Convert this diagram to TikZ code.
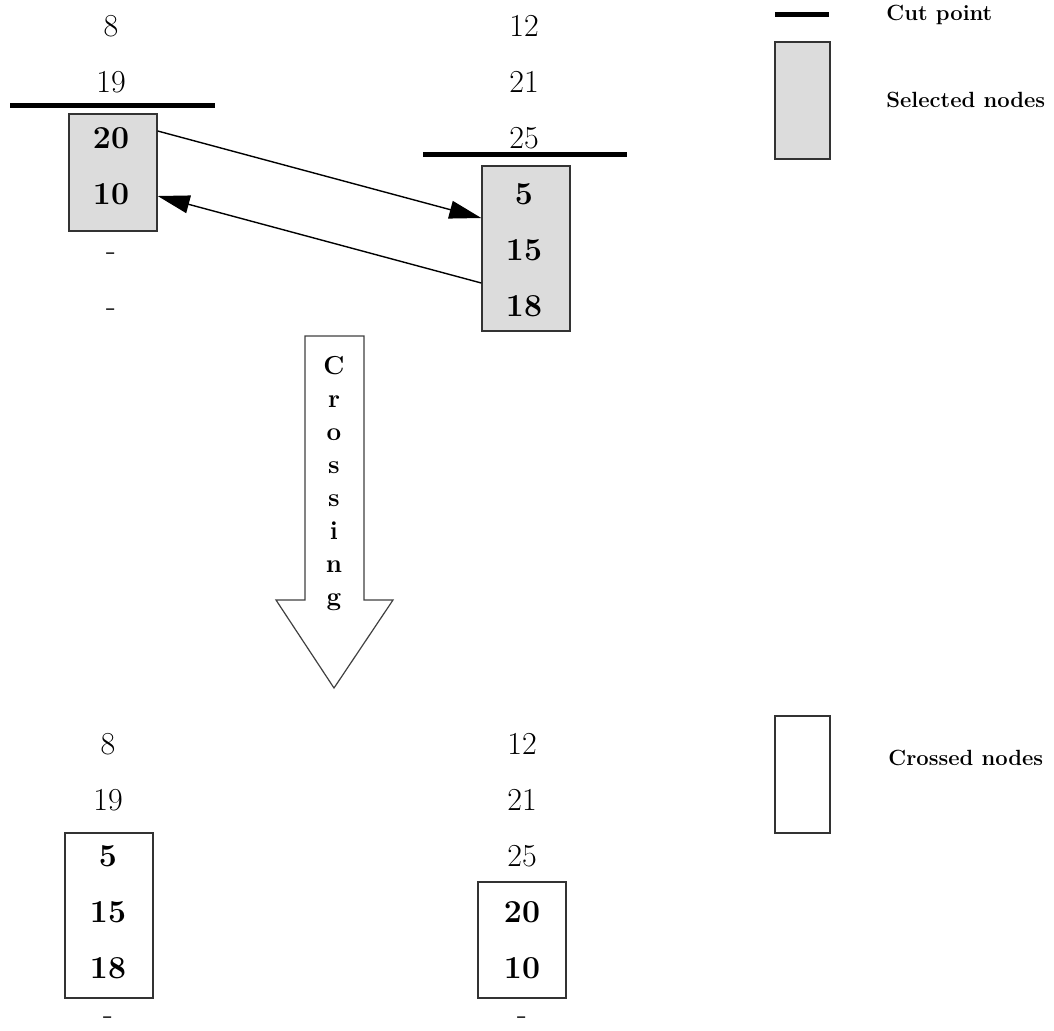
\documentclass[tikz,border=0pt]{standalone}
\usepackage{fontspec}
\usepackage{tikz}
\usetikzlibrary{arrows.meta,positioning}

\definecolor{selgray}{RGB}{220,220,220}
\tikzset{
  num/.style={inner sep=0pt,text height=11pt,text depth=0pt,font=\fontsize{16}{19}\selectfont},
  bnum/.style={num,font=\fontsize{16}{19}\selectfont\bfseries},
  selected/.style={draw=black!80,line width=0.7pt,fill=selgray,minimum width=44pt},
  crossed/.style={draw=black!80,line width=0.7pt,minimum width=44pt},
  cut/.style={line width=2.5pt},
  legend/.style={anchor=west,inner sep=0pt,font=\fontsize{11}{13}\selectfont\bfseries},
  pick/.style={line width=0.7pt,-{Triangle[length=16pt,width=9pt]}}
}

\begin{document}
\begin{tikzpicture}[x=0.5pt,y=-0.5pt,node distance=28pt,on grid]
  \useasboundingbox (0,0) rectangle (1054,1030);

  % boxes first, numbers on top
  \node[selected,minimum height=58.5pt] (sel_a) at (113,172.5) {};
  \node[selected,minimum height=82.5pt] (sel_b) at (526,248.5) {};
  \node[crossed,minimum height=82.5pt] (crs_c) at (109,915.5) {};
  \node[crossed,minimum height=58pt] (crs_d) at (522,940) {};

  % before crossing
  \node[num] (a_1) at (111,25) {8};
  \node[num] (a_2) [below=of a_1] {19};
  \node[bnum] (a_3) [below=of a_2] {20};
  \node[bnum] (a_4) [below=of a_3] {10};
  \node[num] (a_5) [below=of a_4] {-};
  \node[num] (a_6) [below=of a_5] {-};

  \node[num] (b_1) at (524,25) {12};
  \node[num] (b_2) [below=of b_1] {21};
  \node[num] (b_3) [below=of b_2] {25};
  \node[bnum] (b_4) [below=of b_3] {5};
  \node[bnum] (b_5) [below=of b_4] {15};
  \node[bnum] (b_6) [below=of b_5] {18};

  \draw[cut] (10,105) -- (215,105);
  \draw[cut] (423,154) -- (627,154);

  \path[pick]
    ([yshift=3pt]sel_a.east |- a_3) edge ([yshift=15.5pt]sel_b.west |- b_5)
    ([yshift=11pt]sel_b.west |- b_6) edge ([yshift=-1.5pt]sel_a.east |- a_4);

  % crossing arrow
  \draw[line width=0.6pt,draw=black!75,fill=white]
    (305,336) -- (364,336) -- (364,600) -- (393,600) -- (334,688)
    -- (276,600) -- (305,600) -- cycle;
  \node[font=\fontsize{13}{16.5}\selectfont\bfseries,align=center] (crossing) at (334,484)
    {C\\r\\o\\s\\s\\i\\n\\g};

  % after crossing
  \node[num] (c_1) at (108,743) {8};
  \node[num] (c_2) [below=of c_1] {19};
  \node[bnum] (c_3) [below=of c_2] {5};
  \node[bnum] (c_4) [below=of c_3] {15};
  \node[bnum] (c_5) [below=of c_4] {18};
  \node[num] (c_6) [below=of c_5,yshift=5pt] {-};

  \node[num] (d_1) at (522,743) {12};
  \node[num] (d_2) [below=of d_1] {21};
  \node[num] (d_3) [below=of d_2] {25};
  \node[bnum] (d_4) [below=of d_3] {20};
  \node[bnum] (d_5) [below=of d_4] {10};
  \node[num] (d_6) [below=of d_5,yshift=5pt] {-};

  % legend
  \draw[cut] (775,14) -- (829,14);
  \node[legend] (lg_cut) at (886,15) {Cut point};
  \node[selected,minimum width=27.5pt,minimum height=58.5pt] (lg_sel) at (802.5,100.5) {};
  \node[legend] (lg_selt) at (886,100) {Selected nodes};
  \node[crossed,minimum width=27.5pt,minimum height=58.5pt] (lg_crs) at (802.5,774.5) {};
  \node[legend] (lg_crst) at (888,758) {Crossed nodes};
\end{tikzpicture}
\end{document}
